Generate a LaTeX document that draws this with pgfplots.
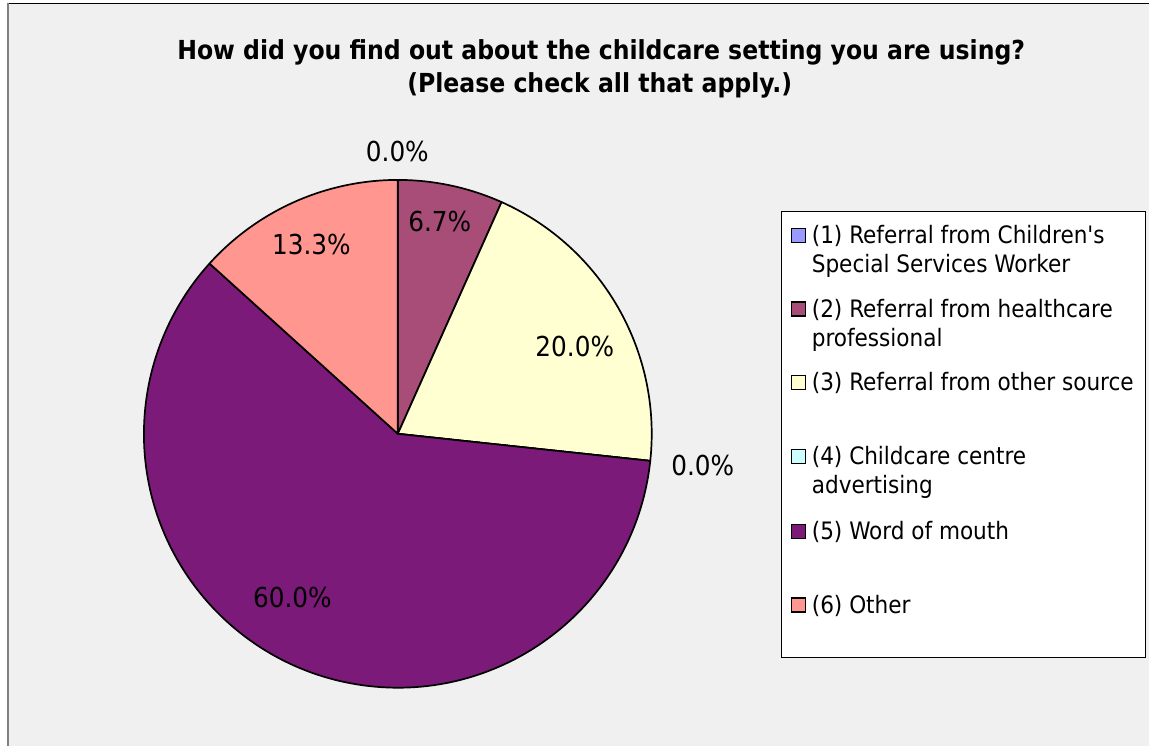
\documentclass[border=0pt]{standalone}
\usepackage{pgfplots}
\usepackage{pgfplotstable}
\pgfplotsset{compat=1.18}
\usepackage{fontspec}
\setmainfont{DejaVu Sans Condensed}

\definecolor{pie0}{HTML}{9999FF}
\definecolor{pie1}{HTML}{A84C78}
\definecolor{pie2}{HTML}{FFFFD2}
\definecolor{pie3}{HTML}{CCFFFF}
\definecolor{pie4}{HTML}{7B1A78}
\definecolor{pie5}{HTML}{FF968F}
\definecolor{bg}{HTML}{F0F0F0}

\tikzset{
  lbl/.style={font=\fontsize{27.5}{33}\selectfont, inner sep=0pt, anchor=base},
  leg/.style={font=\fontsize{24}{29}\selectfont, inner sep=0pt, anchor=base west},
  ttl/.style={font=\fontsize{26.2}{33}\selectfont\bfseries, inner sep=0pt, anchor=base},
  sq/.style={draw=black, line width=1.5pt}
}

% percentage of responses per source (in drawing order, clockwise from 12 o'clock)
\pgfplotstableread{
idx pct
1 0.0
2 6.7
3 20.0
4 0.0
5 60.0
6 13.3
}\piedata
\pgfplotstablecreatecol[create col/expr accum={\pgfmathaccuma + \thisrow{pct}}{0}]{cum}\piedata

\begin{document}
\begin{tikzpicture}
\begin{axis}[x=1pt, y=1pt, xmin=0, xmax=1149, ymin=0, ymax=746,
  hide axis, clip=false]
% background and frame
\fill[white] (axis cs:0,0) rectangle (axis cs:1149,746);
\fill[bg] (axis cs:9,0) rectangle (axis cs:1149,742);
\draw[black, line width=1pt] (axis cs:8,742) -- (axis cs:1149,742);
\draw[gray, line width=2pt] (axis cs:8,0) -- (axis cs:8,742.5);
% pie
\pgfplotsinvokeforeach{0,...,5}{
  \pgfplotsextra{
    \pgfplotstablegetelem{#1}{pct}\of\piedata \let\ppct\pgfplotsretval
    \pgfplotstablegetelem{#1}{cum}\of\piedata \let\pcum\pgfplotsretval
    \pgfmathsetmacro\sa{90-3.6*(\pcum-\ppct)}
    \pgfmathsetmacro\ea{90-3.6*\pcum}
    \filldraw[fill=pie#1, draw=black, line width=1.7pt, line join=round]
      (axis cs:398,312) -- ++(\sa:254pt) arc[start angle=\sa, end angle=\ea, radius=254pt] -- cycle;
  }
}
% data labels
\node[lbl] at (axis cs:397.5,584.3) {0.0\%};
\node[lbl] at (axis cs:440,514.3) {6.7\%};
\node[lbl] at (axis cs:575,389) {20.0\%};
\node[lbl] at (axis cs:703,270) {0.0\%};
\node[lbl] at (axis cs:292.5,138.7) {60.0\%};
\node[lbl] at (axis cs:311.5,491) {13.3\%};
% title
\node[ttl] at (axis cs:601.5,686.7) {How did you find out about the childcare setting you are using?};
\node[ttl] at (axis cs:600,653.5) {(Please check all that apply.)};
% legend
\filldraw[fill=white, draw=black, line width=1pt] (axis cs:782,88) rectangle (axis cs:1146,534);
\filldraw[sq, fill=pie0] (axis cs:792,503.5) rectangle (axis cs:806,517.5);
\node[leg] at (axis cs:812,502) {(1) Referral from Children\textquotesingle s};
\node[leg] at (axis cs:812,473) {Special Services Worker};
\filldraw[sq, fill=pie1] (axis cs:792,430) rectangle (axis cs:806,444);
\node[leg] at (axis cs:812,428.5) {(2) Referral from healthcare};
\node[leg] at (axis cs:812,399.5) {professional};
\filldraw[sq, fill=pie2] (axis cs:792,356.5) rectangle (axis cs:806,370.5);
\node[leg] at (axis cs:812,355) {(3) Referral from other source};
\filldraw[sq, fill=pie3] (axis cs:792,282.5) rectangle (axis cs:806,296.5);
\node[leg] at (axis cs:812,281) {(4) Childcare centre};
\node[leg] at (axis cs:812,252) {advertising};
\filldraw[sq, fill=pie4] (axis cs:792,207.5) rectangle (axis cs:806,221.5);
\node[leg] at (axis cs:812,206) {(5) Word of mouth};
\filldraw[sq, fill=pie5] (axis cs:792,133.5) rectangle (axis cs:806,147.5);
\node[leg] at (axis cs:812,132) {(6) Other};
\end{axis}
\end{tikzpicture}
\end{document}
